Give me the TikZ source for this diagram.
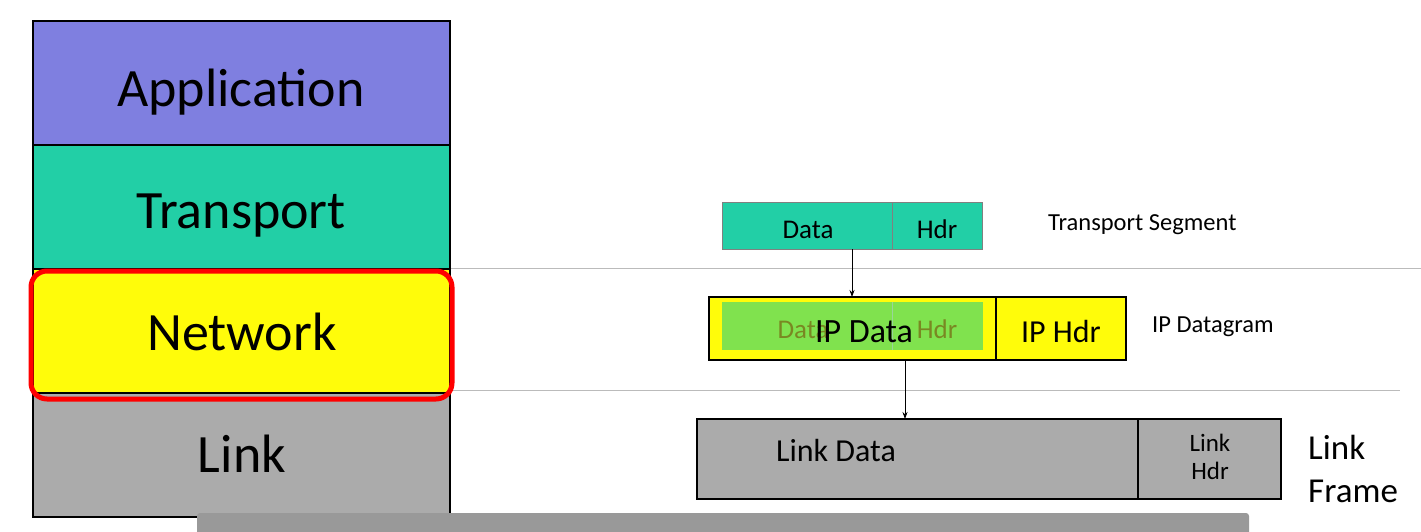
\documentclass[tikz,border=0pt]{standalone}
\usepackage{fontspec}
\setmainfont{Carlito}
\usetikzlibrary{arrows.meta}
\definecolor{appc}{HTML}{7F7FE0}
\definecolor{trc}{HTML}{22CFA6}
\definecolor{netc}{HTML}{FFFC0A}
\definecolor{linkc}{HTML}{ABABAB}
\definecolor{greenc}{HTML}{80E24E}
\definecolor{capc}{HTML}{999999}
\definecolor{sepc}{HTML}{BBBBBB}
\tikzset{
  layer/.style={draw=black, line width=2.5pt, minimum width=417pt, minimum height=124pt, inner sep=0pt},
  big/.style={inner sep=0pt, anchor=base, font=\fontsize{54}{60}\selectfont},
  cell/.style={inner sep=0pt, anchor=base, font=\fontsize{27}{30}\selectfont},
  lbl/.style={inner sep=0pt, anchor=base west, font=\fontsize{24.5}{28}\selectfont},
  arr/.style={draw=black, line width=0.8pt, -{Stealth[length=7pt,width=5pt]}},
  sep/.style={draw=sepc, line width=1pt}
}
\begin{document}
\begin{tikzpicture}[x=1pt,y=-1pt]
\useasboundingbox[fill=white] (0,0) rectangle (1421,531);
% separators
\draw[sep] (450,268) -- (1421,268);
\draw[sep] (450,390) -- (1400,390);
% left stack
\node[layer, fill=appc] (app) at (241.5,83) {};
\node[layer, fill=trc] (tr) at (241.5,207) {};
\node[layer, fill=netc] (net) at (241.5,331) {};
\node[layer, fill=linkc] (lnk) at (241.5,455) {};
\node[big] (appt) at (241,106) {Application};
\node[big] (trt) at (241,228) {Transport};
\node[big] (nett) at (242,350) {Network};
\node[big] (lnkt) at (242,472) {Link};
\draw[red, line width=5pt, rounded corners=16pt] (31,271) rectangle (452,399);
% transport segment
\node[draw=gray, line width=0.6pt, fill=trc, minimum width=170pt, minimum height=47pt, inner sep=0pt] (tdata) at (807,225.5) {};
\node[draw=gray, line width=0.6pt, fill=trc, minimum width=90pt, minimum height=47pt, inner sep=0pt] (thdr) at (937,225.5) {};
\node[cell] (tdt) at (808,238) {Data};
\node[cell] (tht) at (937,238) {Hdr};
\node[lbl] (tseg) at (1048,230) {Transport Segment};
% IP datagram
\node[draw=black, line width=2.5pt, fill=netc, minimum width=287pt, minimum height=63pt, inner sep=0pt] (ipd) at (852.5,328.5) {};
\node[draw=black, line width=2.5pt, fill=netc, minimum width=130pt, minimum height=63pt, inner sep=0pt] (iph) at (1061,328.5) {};
\fill[greenc] (722,302) rectangle (983,350);
\draw[green!60!black!40, line width=0.5pt] (892,302) -- (892,350);
\node[cell, text=olive!80!black, opacity=0.8] (gdata) at (803,338) {Data};
\node[cell, text=olive!80!black, opacity=0.8] (ghdr) at (937,338) {Hdr};
\node[inner sep=0pt, anchor=base, font=\fontsize{34}{38}\selectfont] (ipdt) at (864,342) {IP Data};
\node[inner sep=0pt, anchor=base, font=\fontsize{32}{36}\selectfont] (ipht) at (1061,342) {IP Hdr};
\node[lbl] (ipl) at (1152,332) {IP Datagram};
% link frame
\node[draw=black, line width=1.5pt, fill=linkc, minimum width=441pt, minimum height=80pt, inner sep=0pt] (ldata) at (917.5,459) {};
\node[draw=black, line width=1.5pt, fill=linkc, minimum width=143pt, minimum height=80pt, inner sep=0pt] (lhdr) at (1209.5,459) {};
\node[inner sep=0pt, anchor=base, font=\fontsize{32}{36}\selectfont] (ldt) at (836,461) {Link Data};
\node[inner sep=0pt, anchor=base, font=\fontsize{25}{28}\selectfont] (lht1) at (1210,451) {Link};
\node[inner sep=0pt, anchor=base, font=\fontsize{25}{28}\selectfont] (lht2) at (1210,479) {Hdr};
\node[inner sep=0pt, anchor=base west, font=\fontsize{35}{40}\selectfont] (lfr1) at (1308,459) {Link};
\node[inner sep=0pt, anchor=base west, font=\fontsize{35}{40}\selectfont] (lfr2) at (1308,502) {Frame};
% arrows
\draw[arr] (852,249) -- (852,297);
\draw[arr] (905,360) -- (905,419);
% caption bar
\fill[capc, rounded corners=3pt] (197,513) rectangle (1249,540);
\end{tikzpicture}
\end{document}
